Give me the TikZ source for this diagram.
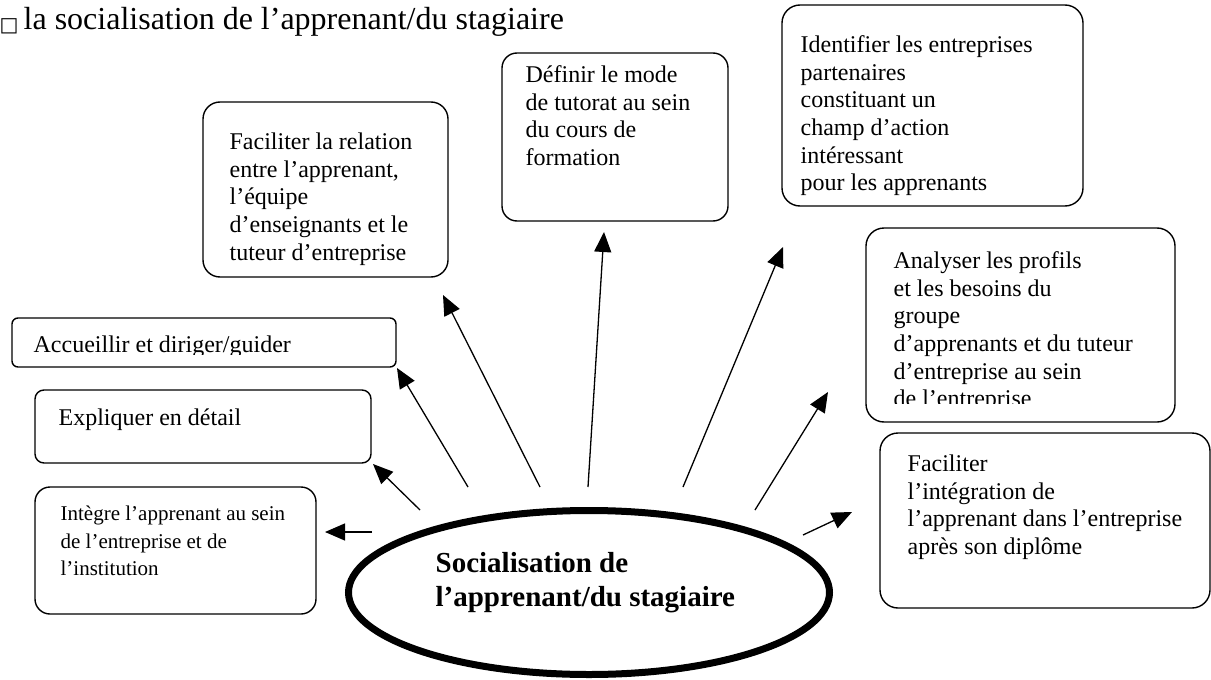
\documentclass[tikz,border=0pt]{standalone}
\usepackage{fontspec}
\setmainfont{Liberation Serif}
\newfontfamily\symbfont{DejaVu Sans}
\usetikzlibrary{arrows.meta,shapes.geometric}
\begin{document}
\begin{tikzpicture}[x=1pt,y=-1pt,line width=1.3pt,>={Triangle[length=20pt,width=17pt]},
    box/.style={draw,line width=1.4pt,inner sep=0pt},
    txt/.style={anchor=north west,inner sep=0pt,align=left,font=\fontsize{24}{27.6}\selectfont},
    smalltxt/.style={txt,font=\fontsize{21}{27.5}\selectfont}]
    \useasboundingbox (0,0) rectangle (1211,680);
    \node[anchor=base west,inner sep=0pt,font=\symbfont\fontsize{20}{24}\selectfont] (bullet) at (-1,31) {□};
    \node[anchor=base west,inner sep=0pt,font=\fontsize{32}{36}\selectfont] (title) at (23,30) {la socialisation de l’apprenant/du stagiaire};
    \node[box,rounded corners=6pt,minimum width=384pt,minimum height=49pt] (acc) at (204,342.5) {};
    \node[box,rounded corners=9pt,minimum width=336pt,minimum height=73pt] (expl) at (203,426.5) {};
    \node[box,rounded corners=15pt,minimum width=281pt,minimum height=127pt] (integ) at (175.5,550.5) {};
    \node[box,rounded corners=17pt,minimum width=245pt,minimum height=175pt] (rel) at (325.5,189.5) {};
    \node[box,rounded corners=15pt,minimum width=226pt,minimum height=168pt] (tut) at (615,137) {};
    \node[box,rounded corners=18pt,minimum width=301pt,minimum height=201pt] (ident) at (932.5,105.5) {};
    \node[box,rounded corners=18pt,minimum width=309pt,minimum height=194pt] (prof) at (1020.5,325) {};
    \node[box,rounded corners=18pt,minimum width=330pt,minimum height=175pt] (insert) at (1045,520.5) {};
    \begin{scope}
        \clip (12,318) rectangle (396,354);
        \node[txt] (acctxt) at (33,332.7) {\strut Accueillir et diriger/guider};
    \end{scope}
    \node[txt] (expltxt) at (58,405.7) {\strut Expliquer en détail};
    \node[smalltxt] (integtxt) at (60,500.8) {\strut Intègre l’apprenant au sein\\de l’entreprise et de\\l’institution};
    \node[txt] (reltxt) at (229,129.7) {\strut Faciliter la relation\\entre l’apprenant,\\l’équipe\\d’enseignants et le\\tuteur d’entreprise};
    \node[txt] (tuttxt) at (525,62.7) {\strut Définir le mode\\de tutorat au sein\\du cours de\\formation};
    \node[txt] (identtxt) at (800,32.7) {\strut Identifier les entreprises\\partenaires\\constituant un\\champ d’action\\intéressant\\pour les apprenants};
    \begin{scope}
        \clip (866,228) rectangle (1175,403);
        \node[txt] (proftxt) at (893,248.7) {\strut Analyser les profils\\et les besoins du\\groupe\\d’apprenants et du tuteur\\d’entreprise au sein\\de l’entreprise};
    \end{scope}
    \node[txt] (inserttxt) at (907,451.7) {\strut Faciliter\\l’intégration de\\l’apprenant dans l’entreprise\\après son diplôme};
    \node[draw,ellipse,line width=7pt,inner sep=0pt,minimum width=481pt,minimum height=164pt] (soc) at (589,592.5) {};
    \node[txt,font=\bfseries\fontsize{29}{34}\selectfont] (soctxt) at (435,548.2) {\strut Socialisation de\\l’apprenant/du stagiaire};
    \coordinate (s1) at (372,532); \coordinate (e1) at (325,532);
    \coordinate (s2) at (420,510); \coordinate (e2) at (373,464);
    \coordinate (s3) at (468,487); \coordinate (e3) at (397,368);
    \coordinate (s4) at (540,487); \coordinate (e4) at (443,295);
    \coordinate (s5) at (588,487); \coordinate (e5) at (604,232);
    \coordinate (s6) at (683,487); \coordinate (e6) at (783,247);
    \coordinate (s7) at (755,510); \coordinate (e7) at (828,392);
    \coordinate (s8) at (803,535); \coordinate (e8) at (852,512);
    \foreach \i in {1,...,8} \draw[->] (s\i) -- (e\i);
\end{tikzpicture}
\end{document}
